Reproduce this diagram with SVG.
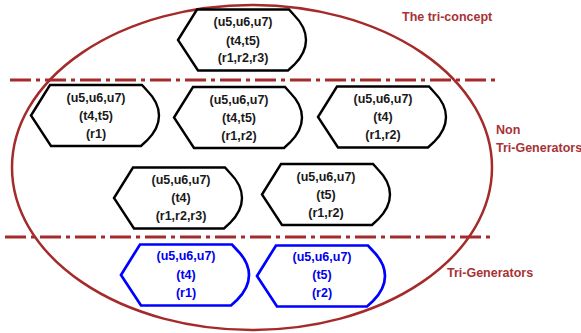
<svg xmlns="http://www.w3.org/2000/svg" xmlns:xlink="http://www.w3.org/1999/xlink" width="581" height="333" viewBox="0 0 581 333">
<style>
  .bg { fill: #ffffff; }
  .ell { fill: none; stroke: #a52a2a; stroke-width: 2.5; }
  .sep { fill: none; stroke: #a52a2a; stroke-width: 3; stroke-dasharray: 21 5 4 5; }
  .node { fill: #ffffff; stroke: #000000; stroke-width: 2.4; stroke-linejoin: miter; }
  .gen { fill: #ffffff; stroke: #0000ff; stroke-width: 2.7; stroke-linejoin: miter; }
  text { font-family: "Liberation Sans", Arial, Helvetica, sans-serif; font-weight: bold; font-size: 12.5px; }
  .t { fill: #1a1a1a; text-anchor: middle; }
  .tb { fill: #0000ee; text-anchor: middle; }
  .lbl { fill: #a83236; }
</style>
<defs>
  <path id="shape" d="M0,0 L19,-30.5 L111,-30.5 L116,-25 C132,-9 132,9 116,25 L110,30.5 L20,30.5 Z"/>
</defs>
<rect class="bg" x="0" y="0" width="581" height="333"/>
<ellipse class="ell" cx="252" cy="167.5" rx="240" ry="162.5"/>
<g id="separators">
  <line class="sep" x1="10" y1="80" x2="498" y2="80"/>
  <line class="sep" x1="5" y1="237" x2="494" y2="237"/>
</g>
<g id="connectors"></g>
<g id="n-top" transform="translate(178,40)">
  <use xlink:href="#shape" class="node"/>
  <text class="t" x="65" y="-14">(u5,u6,u7)</text>
  <text class="t" x="65" y="5">(t4,t5)</text>
  <text class="t" x="65" y="22">(r1,r2,r3)</text>
</g>
<g id="n-a" transform="translate(31,115.5)">
  <use xlink:href="#shape" class="node"/>
  <text class="t" x="65" y="-14">(u5,u6,u7)</text>
  <text class="t" x="65" y="4">(t4,t5)</text>
  <text class="t" x="65" y="22">(r1)</text>
</g>
<g id="n-b" transform="translate(174,117.5)">
  <use xlink:href="#shape" class="node"/>
  <text class="t" x="65" y="-14">(u5,u6,u7)</text>
  <text class="t" x="65" y="4">(t4,t5)</text>
  <text class="t" x="65" y="22">(r1,r2)</text>
</g>
<g id="n-c" transform="translate(318,117)">
  <use xlink:href="#shape" class="node"/>
  <text class="t" x="65" y="-14">(u5,u6,u7)</text>
  <text class="t" x="65" y="4">(t4)</text>
  <text class="t" x="65" y="22">(r1,r2)</text>
</g>
<g id="n-d" transform="translate(114,198)">
  <use xlink:href="#shape" class="node"/>
  <text class="t" x="67" y="-14">(u5,u6,u7)</text>
  <text class="t" x="67" y="4">(t4)</text>
  <text class="t" x="67" y="22">(r1,r2,r3)</text>
</g>
<g id="n-e" transform="translate(262,194.5)">
  <use xlink:href="#shape" class="node"/>
  <text class="t" x="64" y="-14">(u5,u6,u7)</text>
  <text class="t" x="64" y="4">(t5)</text>
  <text class="t" x="64" y="22">(r1,r2)</text>
</g>
<g id="g-f" transform="translate(121,275)">
  <use xlink:href="#shape" class="gen"/>
  <text class="tb" x="65" y="-15">(u5,u6,u7)</text>
  <text class="tb" x="65" y="4">(t4)</text>
  <text class="tb" x="65" y="22">(r1)</text>
</g>
<g id="g-g" transform="translate(257,276)">
  <use xlink:href="#shape" class="gen"/>
  <text class="tb" x="65" y="-15">(u5,u6,u7)</text>
  <text class="tb" x="65" y="3">(t5)</text>
  <text class="tb" x="65" y="21">(r2)</text>
</g>
<g id="labels">
  <text class="lbl" x="402" y="21">The tri-concept</text>
  <text class="lbl" x="496" y="134">Non</text>
  <text class="lbl" x="496" y="152">Tri-Generators</text>
  <text class="lbl" x="447" y="277">Tri-Generators</text>
</g>
</svg>
